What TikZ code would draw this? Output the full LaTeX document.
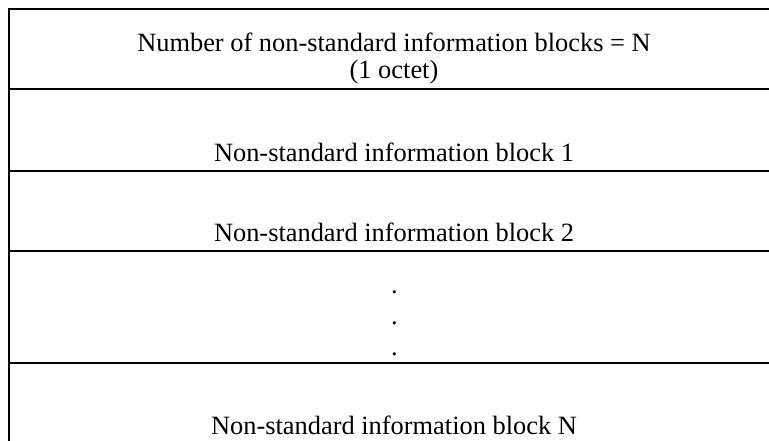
\documentclass[tikz,border=0pt]{standalone}
\usepackage{fontspec}
\setmainfont{Liberation Serif}
\tikzset{rule/.style={line width=1.5pt},
  lbl/.style={anchor=base,inner sep=0pt,font=\fontsize{19.8}{24}\selectfont}}
\begin{document}
\begin{tikzpicture}[x=0.75pt,y=-0.75pt]
\useasboundingbox (0,0) rectangle (769,441);
\draw[rule] (9,8) -- (9,441);
\foreach \y in {9,89.5,171,251,363}
  \draw[rule] (8,\y) -- (769,\y);
\node[lbl] (count) at (394,52) {Number of non-standard information blocks = N};
\node[lbl] (octet) at (394,79) {(1 octet)};
\node[lbl] (blka) at (394,161.5) {Non-standard information block 1};
\node[lbl] (blkb) at (394,241.5) {Non-standard information block 2};
\foreach \y [count=\n] in {293.3,324.3,355.3}
  \node[lbl] (dot\n) at (394.5,\y) {.};
\node[lbl] (blkn) at (394,435) {Non-standard information block N};
\end{tikzpicture}
\end{document}
